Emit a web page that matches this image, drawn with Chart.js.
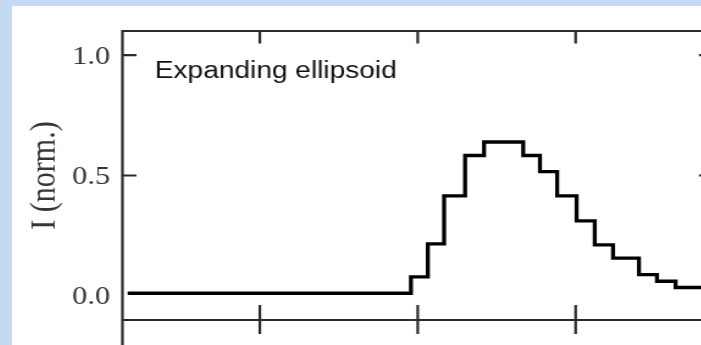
<!DOCTYPE html>
<html>
<head>
<meta charset="utf-8">
<script src="https://cdn.jsdelivr.net/npm/chart.js@4"></script>
<style>
  html, body { margin: 0; padding: 0; overflow: hidden; background: #c5daf0; width: 701px; height: 345px; }
</style>
</head>
<body>
<!-- the source figure is stretched sideways, so the canvas is drawn narrow and scaled up in css -->
<canvas id="plot" width="580" height="339" style="position:absolute;left:12px;top:6px;width:708px;height:339px;background:#fff"></canvas>
<script>
// histogram bin starts (x) and the level of each bin (normalised intensity)
const binStart = [-1.837, -0.043, 0.064, 0.167, 0.300, 0.420, 0.668, 0.774, 0.883, 1.006, 1.121, 1.237, 1.401, 1.515, 1.633, 1.87];
const intensity = [0.011, 0.079, 0.216, 0.415, 0.583, 0.639, 0.583, 0.516, 0.415, 0.312, 0.212, 0.157, 0.088, 0.061, 0.035, 0.035];

const xTicks = [-1, 0, 1];
const yTicks = [0, 0.5, 1.0];
const yMarks = [0.5, 1.0]; // inward tick marks seen on the frame (none at 0)
const yTitle = 'I (norm.)';
const noteText = 'Expanding ellipsoid';

const INK = '#2b2b2b';
const LABEL = '#3a3530';

// frame + inward tick marks, drawn from the scales
const framePlugin = {
    id: 'frame',
    beforeDatasetsDraw(chart) {
        const { ctx, chartArea: a, scales: { x, y } } = chart;
        ctx.save();
        ctx.strokeStyle = INK;
        ctx.lineWidth = 2.2;
        ctx.beginPath();
        ctx.moveTo(a.left, a.top); ctx.lineTo(a.right, a.top);
        ctx.moveTo(a.right, a.top); ctx.lineTo(a.right, a.bottom);
        ctx.moveTo(a.left, a.bottom); ctx.lineTo(a.right, a.bottom);
        ctx.moveTo(a.left, a.top - 1); ctx.lineTo(a.left, chart.height);
        xTicks.forEach(v => {
            const px = x.getPixelForValue(v);
            ctx.moveTo(px, a.top); ctx.lineTo(px, a.top + 12.5);
            ctx.moveTo(px, a.bottom - 15); ctx.lineTo(px, a.bottom + 14);
        });
        yMarks.forEach(v => {
            const py = y.getPixelForValue(v);
            ctx.moveTo(a.left, py); ctx.lineTo(a.left + 11.5, py);
            ctx.moveTo(a.right - 11.5, py); ctx.lineTo(a.right, py);
        });
        ctx.stroke();
        ctx.restore();
    },
    afterDraw(chart) {
        const { ctx, scales: { x, y } } = chart;
        ctx.save();
        ctx.font = '23px "Liberation Sans", Arial, sans-serif';
        ctx.fillStyle = '#111';
        ctx.textBaseline = 'alphabetic';
        ctx.fillText(noteText, x.getPixelForValue(-1.665), y.getPixelForValue(0.903));
        ctx.restore();
    }
};

new Chart(document.getElementById('plot'), {
    type: 'line',
    data: {
        datasets: [{
            data: binStart.map((b, i) => ({ x: b, y: intensity[i] })),
            stepped: 'before',
            borderColor: '#000',
            borderWidth: 3.3,
            borderJoinStyle: 'miter',
            pointRadius: 0,
            fill: false
        }]
    },
    options: {
        responsive: false,
        animation: false,
        events: [],
        layout: { padding: { left: 0, top: 23, right: 5.7, bottom: 25 } },
        plugins: { legend: { display: false }, tooltip: { enabled: false } },
        scales: {
            x: {
                type: 'linear',
                min: -1.87,
                max: 1.87,
                display: false
            },
            y: {
                min: -0.1,
                max: 1.1,
                afterFit: s => { s.width = 90.5; },
                afterBuildTicks: s => { s.ticks = yTicks.map(v => ({ value: v })); },
                grid: { display: false, drawTicks: false },
                border: { display: false },
                ticks: {
                    padding: 10,
                    labelOffset: 2,
                    color: LABEL,
                    font: { family: '"Liberation Serif", "Times New Roman", serif', size: 25 },
                    callback: v => Number(v).toFixed(1)
                },
                title: {
                    display: true,
                    text: yTitle,
                    color: LABEL,
                    padding: { top: 9, bottom: 0 },
                    font: { family: '"Liberation Serif", "Times New Roman", serif', size: 30 }
                }
            }
        }
    },
    plugins: [framePlugin]
});
</script>
</body>
</html>
